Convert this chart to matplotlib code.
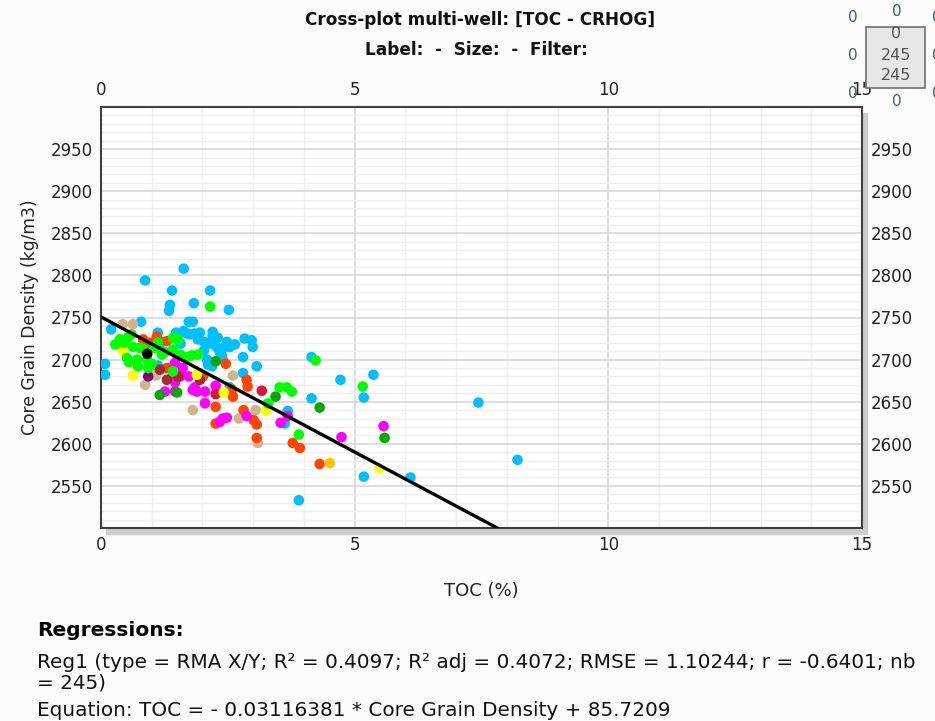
import numpy as np
import matplotlib
matplotlib.use("Agg")
import matplotlib.pyplot as plt
from matplotlib.patches import Rectangle
from matplotlib.ticker import MultipleLocator

# ── Data (TOC %, core grain density kg/m3) per well colour ────────────────
cyan_toc = [1.63, 0.87, 1.40, 2.15, 1.36, 1.34, 1.83, 2.52, 0.79, 1.73, 1.81, 0.20,
            1.12, 1.63, 1.69, 1.75, 1.85, 1.95, 2.20, 2.20, 2.03, 2.15, 2.48, 2.44,
            2.54, 2.83, 2.97, 2.99, 2.28, 2.34, 2.38, 2.40, 2.03, 2.09, 2.80, 2.11,
            2.19, 3.07, 2.80, 1.12, 0.08, 0.08, 1.20, 4.15, 4.72, 5.37, 4.15, 5.18,
            7.44, 3.68, 3.62, 2.54, 8.21, 5.18, 6.10, 3.90, 1.48, 1.91, 2.64, 2.30,
            1.57]
cyan_rho = [2808, 2794, 2782, 2782, 2765, 2758, 2767, 2759, 2745, 2745, 2745, 2736,
            2732, 2734, 2731, 2730, 2731, 2732, 2733, 2728, 2721, 2719, 2721, 2715,
            2715, 2725, 2723, 2715, 2715, 2709, 2705, 2700, 2711, 2700, 2703, 2694,
            2692, 2692, 2684, 2693, 2695, 2682, 2721, 2703, 2676, 2682, 2654, 2655,
            2649, 2639, 2624, 2667, 2581, 2561, 2560, 2533, 2732, 2724, 2718, 2726,
            2719]

lime_toc = [2.15, 1.42, 1.52, 0.53, 0.63, 0.77, 0.51, 0.71, 0.91, 0.96, 1.42, 1.56,
            1.69, 1.79, 1.91, 1.26, 0.73, 0.93, 1.42, 4.23, 5.16, 3.52, 3.66, 3.76,
            3.29, 3.90, 1.06, 1.20, 0.37, 0.28, 1.12, 0.45, 0.60, 0.85, 1.00, 0.55]
lime_rho = [2763, 2726, 2724, 2726, 2715, 2714, 2702, 2700, 2700, 2692, 2712, 2706,
            2703, 2705, 2706, 2709, 2692, 2690, 2686, 2699, 2668, 2667, 2667, 2662,
            2648, 2611, 2714, 2706, 2724, 2718, 2720, 2720, 2730, 2712, 2695, 2697]

dkgreen_toc = [2.26, 1.16, 1.50, 3.44, 4.31, 5.59]
dkgreen_rho = [2698, 2658, 2661, 2656, 2643, 2607]

tan_toc = [0.43, 0.63, 0.37, 0.87, 1.08, 1.81, 2.05, 2.60, 3.05, 2.72, 3.09]
tan_rho = [2742, 2742, 2721, 2670, 2681, 2640, 2650, 2681, 2640, 2630, 2601]

yellow_toc = [0.43, 0.63, 2.42, 3.25, 5.49, 1.89]
yellow_rho = [2711, 2681, 2661, 2639, 2571, 2682]

gold_toc = [4.51]
gold_rho = [2577]

magenta_toc = [1.42, 1.50, 1.56, 1.73, 1.26, 1.46, 1.81, 1.89, 2.05, 2.26, 2.05, 2.40,
               2.48, 2.34, 2.87, 3.54, 3.68, 5.57, 4.74, 1.46, 1.61, 1.85, 1.46]
magenta_rho = [2684, 2682, 2680, 2680, 2662, 2662, 2664, 2662, 2662, 2669, 2648, 2630,
               2631, 2626, 2633, 2625, 2633, 2621, 2608, 2696, 2690, 2667, 2673]

orange_toc = [0.83, 0.96, 2.46, 2.87, 2.89, 2.60, 2.26, 2.81, 2.26, 3.01, 3.07, 3.07,
              3.78, 3.92, 4.31, 2.58, 2.01, 1.30, 1.10, 1.30, 1.50]
orange_rho = [2724, 2720, 2695, 2676, 2668, 2656, 2644, 2640, 2624, 2628, 2623, 2607,
              2601, 2595, 2576, 2664, 2680, 2690, 2727, 2722, 2705]

crimson_toc = [3.17, 2.26]
crimson_rho = [2663, 2659]

brown_toc = [1.30, 1.52, 1.95, 1.16]
brown_rho = [2676, 2680, 2676, 2688]

purple_toc = [0.93]
purple_rho = [2680]

black_toc = [0.91]
black_rho = [2707]

# RMA X/Y regression: TOC = a * CRHOG + b
reg_a = -0.03116381
reg_b = 85.7209

WELLS = [
    (cyan_toc, cyan_rho, '#00bfff'),
    (tan_toc, tan_rho, '#d2b48c'),
    (orange_toc, orange_rho, '#ff4500'),
    (magenta_toc, magenta_rho, '#ff00ff'),
    (brown_toc, brown_rho, '#a52a2a'),
    (crimson_toc, crimson_rho, '#dc143c'),
    (purple_toc, purple_rho, '#800080'),
    (yellow_toc, yellow_rho, '#ffff00'),
    (gold_toc, gold_rho, '#ffc400'),
    (dkgreen_toc, dkgreen_rho, '#00aa00'),
    (lime_toc, lime_rho, '#00ff00'),
    (black_toc, black_rho, '#000000'),
]

# ── Figure ────────────────────────────────────────────────────────────────
W, H = 935, 721
fig = plt.figure(figsize=(W / 100, H / 100), dpi=100, facecolor='#fbfbfb')

x0, x1, y0, y1 = 101, 862, 107, 528
ax = fig.add_axes([x0 / W, 1 - y1 / H, (x1 - x0) / W, (y1 - y0) / H])
ax.set_zorder(2)

# drop shadow under the plot frame (drawn behind the axes)
fig.patches.append(Rectangle(((x0 + 5) / W, 1 - (y1 + 6) / H), (x1 - x0) / W, (y1 - y0) / H,
                             transform=fig.transFigure, color='#cdcdcd', zorder=0))

ax.set_facecolor('white')
ax.set_xlim(0, 15)
ax.set_ylim(2500, 3000)

ax.xaxis.set_major_locator(MultipleLocator(5))
ax.xaxis.set_minor_locator(MultipleLocator(1))
ax.yaxis.set_major_locator(MultipleLocator(50))
ax.yaxis.set_minor_locator(MultipleLocator(10))
ax.grid(True, which='major', color='#d4d4d4', linewidth=1.1)
ax.grid(True, which='minor', color='#efefef', linewidth=1.0)
ax.set_axisbelow(True)

ax.tick_params(which='both', length=0, labelsize=12, colors='#222222',
               top=True, right=True, labeltop=True, labelright=True, pad=6)
ax.set_yticks([2550, 2600, 2650, 2700, 2750, 2800, 2850, 2900, 2950])
for sp in ax.spines.values():
    sp.set_color('#404040')
    sp.set_linewidth(1.5)

for toc, rho, col in WELLS:
    ax.scatter(toc, rho, s=58, color=col, edgecolors='none', zorder=3)

rho_line = np.array([2500.0, 2760.0])
ax.plot(reg_a * rho_line + reg_b, rho_line, color='black', linewidth=2.4, zorder=4)

ax.set_xlabel('TOC (%)', fontsize=13, labelpad=20, color='#222222')
ax.set_ylabel('Core Grain Density (kg/m3)', fontsize=12.3, labelpad=8, color='#222222')

fig.text(480 / W, 1 - 20 / H, 'Cross-plot multi-well: [TOC - CRHOG]', ha='center', va='center',
         fontsize=12.2, fontweight='bold', color='#111111')
fig.text(476 / W, 1 - 50 / H, 'Label:  -  Size:  -  Filter:', ha='center', va='center',
         fontsize=12.2, fontweight='bold', color='#111111')

# small selection widget in the top right corner
fig.patches.append(Rectangle((866 / W, 1 - 88 / H), 59 / W, 61 / H, transform=fig.transFigure,
                             facecolor='#e6e6e6', edgecolor='#707070', linewidth=1.2, zorder=5))
for txt, ty in [('0', 34), ('245', 56), ('245', 75)]:
    fig.text(896 / W, 1 - ty / H, txt, ha='center', va='center', fontsize=11.5,
             color='#555555', zorder=6)
for tx, ty in [(853, 18), (853, 56), (853, 93), (897, 12), (897, 101),
               (937, 18), (937, 56), (937, 93)]:
    fig.text(tx / W, 1 - ty / H, '0', ha='center', va='center', fontsize=11,
             color='#4a5a70', zorder=6)

# regression summary
fig.text(37 / W, 1 - 631 / H, 'Regressions:', ha='left', va='center', fontsize=14.5,
         fontweight='bold', color='#000000')
fig.text(37 / W, 1 - 662 / H,
         'Reg1 (type = RMA X/Y; R² = 0.4097; R² adj = 0.4072; RMSE = 1.10244; r = -0.6401; nb',
         ha='left', va='center', fontsize=14.4, color='#111111')
fig.text(37 / W, 1 - 683 / H, '= 245)', ha='left', va='center', fontsize=14.4, color='#111111')
fig.text(37 / W, 1 - 711 / H, 'Equation: TOC = - 0.03116381 * Core Grain Density + 85.7209',
         ha='left', va='center', fontsize=14.4, color='#111111')

fig.savefig('out.png', dpi=100, facecolor=fig.get_facecolor())
